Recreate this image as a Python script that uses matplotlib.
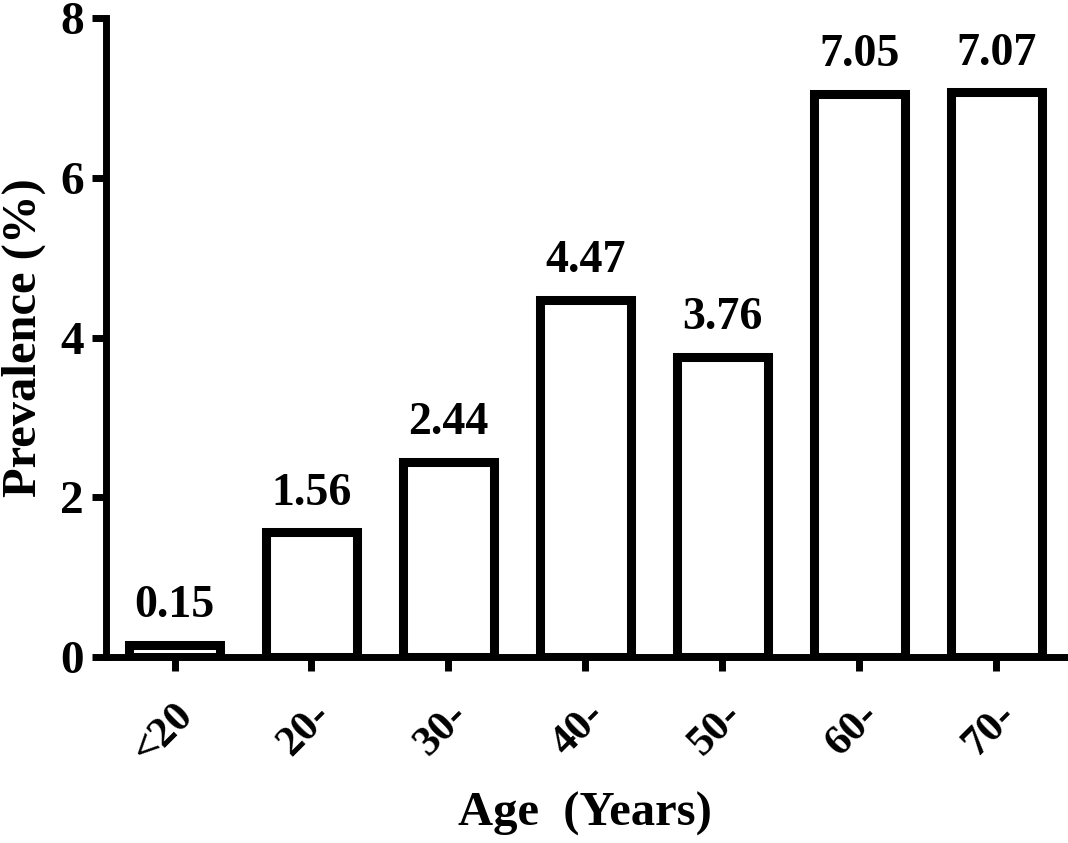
import matplotlib
matplotlib.use('Agg')
import matplotlib.pyplot as plt

plt.rcParams['font.family'] = ['Liberation Serif', 'DejaVu Serif']
plt.rcParams['font.weight'] = 'bold'

age_groups = ['<20', '20-', '30-', '40-', '50-', '60-', '70-']
prevalence = [0.15, 1.56, 2.44, 4.47, 3.76, 7.05, 7.07]
value_labels = ['0.15', '1.56', '2.44', '4.47', '3.76', '7.05', '7.07']

fig = plt.figure(figsize=(10.68, 8.43), dpi=100)
ax = fig.add_axes([0.0993, 0.2206, 0.8977, 0.758])

x = range(len(age_groups))
bars = ax.bar(x, prevalence, width=0.665, color='white', edgecolor='black',
              linewidth=6.5, zorder=3)

# value labels above bars
for xi, v, lab in zip(x, prevalence, value_labels):
    ax.annotate(lab, (xi, v), xytext=(0, 20), textcoords='offset points',
                ha='center', va='baseline', fontsize=33, fontweight='bold')

ax.set_xlim(-0.5, 6.5)
ax.set_ylim(0, 8)
ax.set_yticks([0, 2, 4, 6, 8])
ax.set_xticks(list(x))
ax.set_xticklabels(age_groups, rotation=45, ha='right', rotation_mode='anchor')

ax.spines['top'].set_visible(False)
ax.spines['right'].set_visible(False)
for s in ['left', 'bottom']:
    ax.spines[s].set_linewidth(5)
    ax.spines[s].set_zorder(4)

ax.tick_params(axis='both', direction='out', length=10, width=5, pad=6)
ax.tick_params(axis='y', labelsize=34)
ax.tick_params(axis='x', labelsize=31, pad=18)

ax.set_xlabel('Age  (Years)', fontsize=35, fontweight='bold', labelpad=15)
ax.set_ylabel('Prevalence (%)', fontsize=35, fontweight='bold', labelpad=10)

plt.savefig('out.png', dpi=100)
